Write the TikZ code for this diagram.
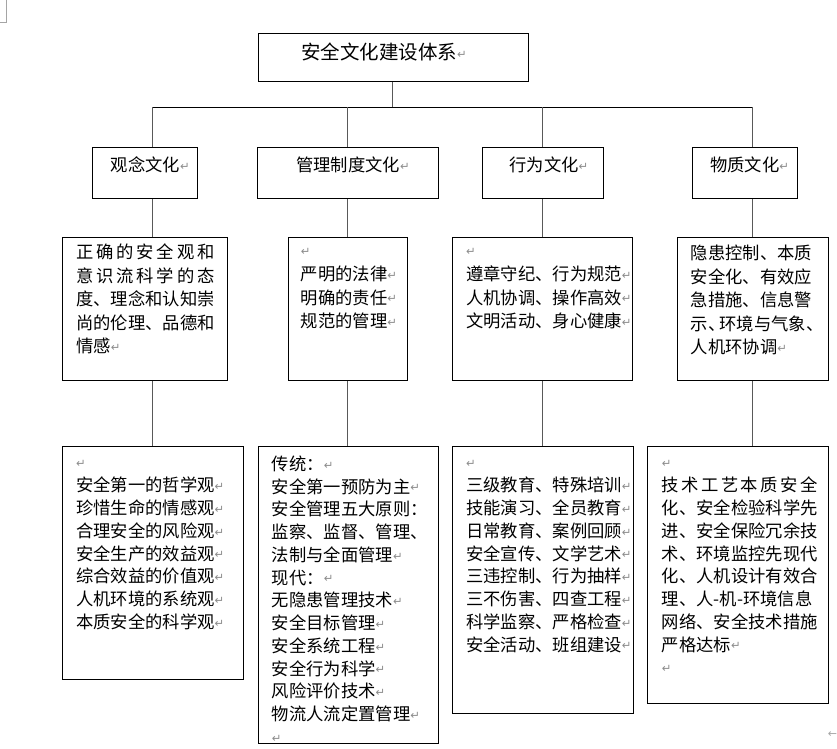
\documentclass[tikz,border=0pt]{standalone}
\usepackage{fontspec}
\setmainfont{Noto Sans CJK SC}
\newfontfamily\dejavu{DejaVu Sans}
\definecolor{retgray}{RGB}{140,140,140}
\definecolor{markgray}{RGB}{165,165,165}
\newcommand\rt{\raisebox{1.2pt}{\dejavu\fontsize{11.5}{11.5}\selectfont\textcolor{retgray}{↵}}}
\newcommand\dl[2]{\makebox[#1][s]{\spaceskip=0pt plus 1fil\relax #2}}
\newcommand\ftitle{\fontsize{19.5}{23}\selectfont}
\newcommand\ftwo{\fontsize{17.3}{23}\selectfont}
\newcommand\fthree{\fontsize{17.3}{23.5}\selectfont}
\newcommand\ffour{\fontsize{17.3}{22.75}\selectfont}
\tikzset{
  box/.style={draw=black, line width=0.8pt, inner sep=0pt, anchor=north west, fill=none},
  conn/.style={draw=black!65, line width=0.9pt},
  barline/.style={draw=black, line width=0.8pt},
  lbl/.style={anchor=west, inner sep=0pt},
  txt/.style={anchor=base west, inner sep=0pt, align=left, text width=175pt}
}
\begin{document}
\begin{tikzpicture}[x=1pt,y=-1pt]
\useasboundingbox (0,0) rectangle (837,748);
\fill[white] (0,0) rectangle (837,748);
% page corner marks
\draw[markgray, line width=0.8pt] (6.3,0) -- (6.3,22.7) -- (0,22.7);
\node[inner sep=0pt, text=markgray, font=\dejavu\fontsize{11}{11}\selectfont] (endmark) at (832.5,735) {←};

% boxes
\node[box, minimum width=270pt, minimum height=47.7pt] (top) at (257.5,33.3) {};
\node[box, minimum width=105pt, minimum height=51.6pt] (l2a) at (92.3,146.7) {};
\node[box, minimum width=180.4pt, minimum height=51.6pt] (l2b) at (257.3,146.7) {};
\node[box, minimum width=120.4pt, minimum height=51.6pt] (l2c) at (482.3,146.7) {};
\node[box, minimum width=105pt, minimum height=51.6pt] (l2d) at (692.3,146.7) {};
\node[box, minimum width=165pt, minimum height=142.7pt] (l3a) at (62.3,237.3) {};
\node[box, minimum width=119.6pt, minimum height=142.7pt] (l3b) at (287.7,237.3) {};
\node[box, minimum width=180pt, minimum height=142.7pt] (l3c) at (452.3,237.3) {};
\node[box, minimum width=150.4pt, minimum height=142.7pt] (l3d) at (677.3,237.3) {};
\node[box, minimum width=180.7pt, minimum height=233pt] (l4a) at (62.3,446) {};
\node[box, minimum width=180pt, minimum height=297pt] (l4b) at (257.7,446) {};
\node[box, minimum width=180.4pt, minimum height=267pt] (l4c) at (452.3,446) {};
\node[box, minimum width=180.4pt, minimum height=257pt] (l4d) at (647.3,446) {};

% connectors
\coordinate (bar) at (0,107.3);
\coordinate (c1) at (152.8,0);
\coordinate (c2) at (347.8,0);
\coordinate (c3) at (542.8,0);
\coordinate (c4) at (752.8,0);
\draw[conn] (top.south) -- (top.south |- bar);
\draw[barline] (c1 |- bar) -- (c4 |- bar);
\foreach \c/\a/\b/\d in {c1/l2a/l3a/l4a, c2/l2b/l3b/l4b, c3/l2c/l3c/l4c, c4/l2d/l3d/l4d}{
  \draw[conn] (\c |- bar) -- (\a.north -| \c);
  \draw[conn] (\a.south -| \c) -- (\b.north -| \c);
  \draw[conn] (\b.south -| \c) -- (\d.north -| \c);
}

% titles
\node[lbl, font=\ftitle] (t0) at (301,52.5) {安全文化建设体系\rt};
\node[lbl, font=\ftwo] (t2a) at (110.7,165) {观念文化\rt};
\node[lbl, font=\ftwo] (t2b) at (296,165) {管理制度文化\rt};
\node[lbl, font=\ftwo] (t2c) at (509.3,165) {行为文化\rt};
\node[lbl, font=\ftwo] (t2d) at (710,165) {物质文化\rt};

% level 3 texts
\node[txt, font=\fthree] (t3a) at (76,258.6) {\dl{8em}{正 确 的 安 全 观 和}\\ \dl{8em}{意 识 流 科 学 的 态}\\ 度、理念和认知崇\\ 尚的伦理、品德和\\ 情感\rt};
\node[txt, font=\fthree] (t3b) at (300.7,257.1) {\rt\\ 严明的法律\rt\\ 明确的责任\rt\\ 规范的管理\rt};
\node[txt, font=\fthree] (t3c) at (466,257.1) {\rt\\ 遵章守纪、行为规范\rt\\ 人机协调、操作高效\rt\\ 文明活动、身心健康\rt};
\node[txt, font=\fthree] (t3d) at (690.7,259.6) {隐患控制、本质\\ 安全化、有效应\\ 急措施、信息警\\ 示、\kern-6pt 环境与气象、\\ 人机环协调\rt};

% level 4 texts
\node[txt, font=\ffour] (t4a) at (76,469) {\rt\\ 安全第一的哲学观\rt\\ 珍惜生命的情感观\rt\\ 合理安全的风险观\rt\\ 安全生产的效益观\rt\\ 综合效益的价值观\rt\\ 人机环境的系统观\rt\\ 本质安全的科学观\rt};
\node[txt, font=\ffour] (t4b) at (271.7,470.4) {传统：\rt\\ 安全第一预防为主\rt\\ 安全管理五大原则：\\ 监察、监督、管理、\\ 法制与全面管理\rt\\ 现代：\rt\\ 无隐患管理技术\rt\\ 安全目标管理\rt\\ 安全系统工程\rt\\ 安全行为科学\rt\\ 风险评价技术\rt\\ 物流人流定置管理\rt\\ \rt};
\node[txt, font=\ffour] (t4c) at (466,469) {\rt\\ 三级教育、特殊培训\rt\\ 技能演习、全员教育\rt\\ 日常教育、案例回顾\rt\\ 安全宣传、文学艺术\rt\\ 三违控制、行为抽样\rt\\ 三不伤害、四查工程\rt\\ 科学监察、严格检查\rt\\ 安全活动、班组建设\rt};
\node[txt, font=\ffour] (t4d) at (661.7,469) {\rt\\ \dl{9em}{技 术 工 艺 本 质 安 全}\\ 化、安全检验科学先\\ 进、安全保险冗余技\\ 术、环境监控先现代\\ 化、人机设计有效合\\ 理、人-机-环境信息\\ 网络、安全技术措施\\ 严格达标\rt\\ \rt};
\end{tikzpicture}
\end{document}
